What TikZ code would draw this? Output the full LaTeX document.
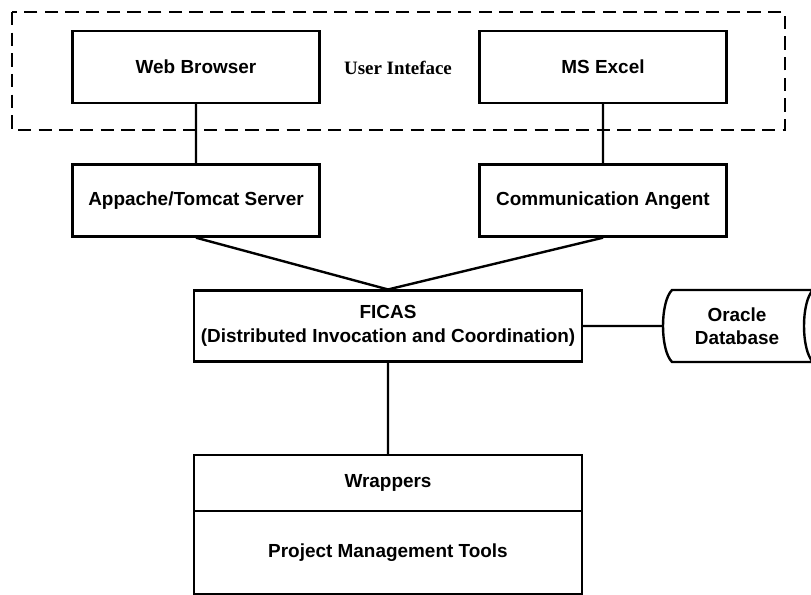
\documentclass[tikz,border=0pt]{standalone}
\usepackage{fontspec}
\setmainfont{Liberation Sans}
\newfontfamily\uifont{Liberation Serif}

\begin{document}
\begin{tikzpicture}[x=0.75pt,y=-0.75pt,line width=1.8pt,
      font=\fontsize{14.2}{17.5}\selectfont\bfseries,
      main node/.style={rectangle,draw,align=center,inner sep=0pt,
        minimum width=185pt,minimum height=54pt},
      wide node/.style={main node,minimum width=291pt}]
    \useasboundingbox (0,0) rectangle (811,595);
    \clip (0,0) rectangle (811,595);
    % user interface group
    \draw[line width=1.3pt,dash pattern=on 10pt off 5.5pt] (12,12) rectangle (785,130);
    \node[main node] (wb) at (196,67) {Web Browser};
    \node[main node] (excel) at (603,67) {MS Excel};
    \node (ui) at (398,68) {\uifont\bfseries User Inteface};
    \node[main node] (tomcat) at (196,200.5) {Appache/Tomcat Server};
    \node[main node] (agent) at (603,200.5) {Communication Angent};
    \node[wide node,minimum height=53pt] (ficas) at (388,326)
      {FICAS\\(Distributed Invocation and Coordination)};
    % stored data shape, cut by the page edge
    \node[align=center,minimum width=111pt,minimum height=54pt,inner sep=0pt]
      (oracle) at (737,326) {Oracle\\Database};
    \draw (672,290) -- (813,290) .. controls (801,302) and (801,350) .. (813,362)
      -- (672,362) .. controls (660,350) and (660,302) .. (672,290) -- cycle;
    \node[wide node,minimum height=42pt] (wrap) at (388,483) {Wrappers};
    \node[wide node,minimum height=62.25pt] (pmt) at (388,552.5) {Project Management Tools};
    \path[draw]
    (wb) -- (tomcat)
    (excel) -- (agent)
    (tomcat.south) -- (ficas.north)
    (agent.south) -- (ficas.north)
    (ficas) -- (oracle)
    (ficas) -- (wrap)
    ;
  \end{tikzpicture}
\end{document}
